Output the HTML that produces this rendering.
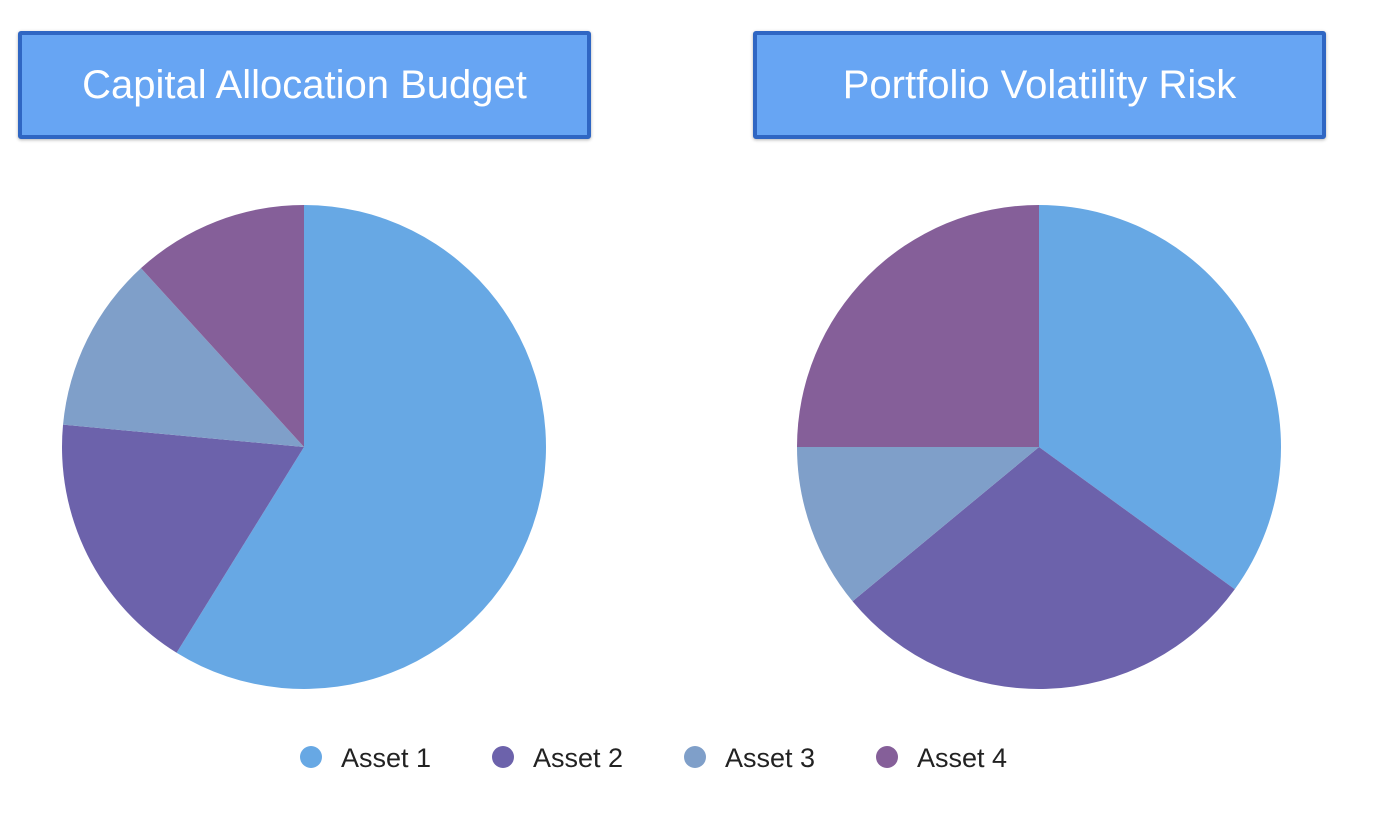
<!DOCTYPE html>
<html><head><meta charset="utf-8"><style>
body{margin:0;width:1400px;height:830px;background:#fff;overflow:hidden;font-family:"Liberation Sans",sans-serif}
.title{position:absolute;top:31px;height:100px;width:565px;background:#67a5f3;border:4px solid #2f66c3;border-radius:3px;box-shadow:0 1px 3px rgba(0,0,0,.3);color:#fff;font-size:40px;line-height:100px;text-align:center;box-sizing:content-box}
</style></head><body>
<div class="title" style="left:18px">Capital Allocation Budget</div>
<div class="title" style="left:753px">Portfolio Volatility Risk</div>
<svg id="s" width="1400" height="830" style="position:absolute;left:0;top:0"></svg>
<script>
const categories=["Asset 1","Asset 2","Asset 3","Asset 4"];
const budgetValues=[50,15,10,10];
const riskValues=[35,29,11,25];
const colors=["#67a8e4","#6c62ab","#7f9fc9","#855f99"];
const NS="http://www.w3.org/2000/svg";
const svg=document.getElementById('s');
function pie(vals,cx,cy,r,name){
  const tot=vals.reduce((a,b)=>a+b,0);let a0=0;
  vals.forEach((v,i)=>{
    const a1=a0+v/tot*2*Math.PI;
    const x0=cx+r*Math.sin(a0),y0=cy-r*Math.cos(a0),x1=cx+r*Math.sin(a1),y1=cy-r*Math.cos(a1);
    const p=document.createElementNS(NS,'path');
    p.setAttribute('d',`M${cx},${cy}L${x0},${y0}A${r},${r} 0 ${a1-a0>Math.PI?1:0} 1 ${x1},${y1}Z`);
    p.setAttribute('fill',colors[i]);
    
    
    svg.appendChild(p);a0=a1;
  });
}
pie(budgetValues,304,447,242,'budget');
pie(riskValues,1039,447,242,'risk');
categories.forEach((c,i)=>{
  const x=311+i*192;
  const ci=document.createElementNS(NS,'circle');
  ci.setAttribute('cx',x);ci.setAttribute('cy',757);ci.setAttribute('r',11);ci.setAttribute('fill',colors[i]);
  
  
  svg.appendChild(ci);
  const t=document.createElementNS(NS,'text');
  t.setAttribute('x',x+30);t.setAttribute('y',767);t.setAttribute('font-size','27');t.setAttribute('fill','#222');
  t.setAttribute('font-family','Liberation Sans, sans-serif');
  t.textContent=c;
  
  
  svg.appendChild(t);
});
</script>
</body></html>
